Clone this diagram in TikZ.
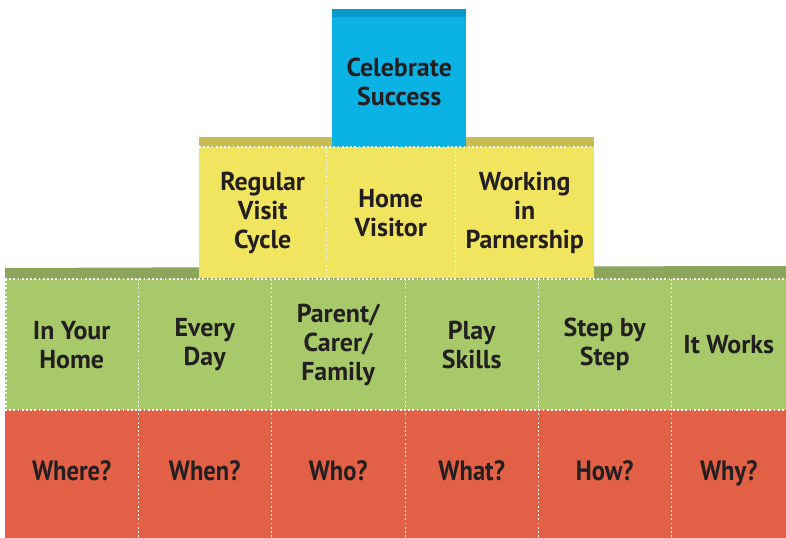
\documentclass[tikz,border=0pt]{standalone}
\usepackage{fontspec}
\setmainfont{PT Sans}
\newfontfamily\condfont[FakeStretch=0.88]{PT Sans}
\definecolor{cblue}{HTML}{0BB2E4}
\definecolor{cbluedk}{HTML}{0A9ACB}
\definecolor{cyel}{HTML}{F1E45E}
\definecolor{cyeldk}{HTML}{C9BC52}
\definecolor{cgrn}{HTML}{A7C96A}
\definecolor{cgrndk}{HTML}{8BA65B}
\definecolor{cred}{HTML}{E26045}
\definecolor{ctxt}{HTML}{231F20}
\tikzset{
  face/.style={draw=none, inner sep=0pt, align=center, anchor=north west,
    font=\fontsize{26}{29}\selectfont\bfseries, text=ctxt},
  redface/.style={face, fill=cred, font=\condfont\fontsize{28}{29}\selectfont\bfseries},
  dotline/.style={draw=white, line width=1.8bp, line cap=butt, dash pattern=on 1.8bp off 2.4bp}
}
\begin{document}
\begin{tikzpicture}[x=1bp,y=-1bp]
\useasboundingbox (0,0) rectangle (786,538);
% back strips
\fill[cgrndk] (5,268) -- (300,267) -- (786,266) -- (786,279) -- (5,279) -- cycle;
\fill[cyeldk] (199,137) rectangle (594,147);
% yellow faces
\node[face, fill=cyel, minimum width=127bp, minimum height=131bp] (rv) at (199,147) {Regular\\Visit\\Cycle};
\node[face, fill=cyel, minimum width=129bp, minimum height=131bp] (hv) at (326,147) {Home\\Visitor};
\node[face, fill=cyel, minimum width=139bp, minimum height=131bp] (wp) at (455,147) {Working\\in\\Parnership};
% blue
\fill[cbluedk] (332,9) rectangle (466,17);
\node[face, fill=cblue, minimum width=134bp, minimum height=130bp] (cs) at (332,17) {Celebrate\\Success};
% green faces
\node[face, fill=cgrn, minimum width=133bp, minimum height=131bp] (g1) at (5,279) {In Your\\Home};
\node[face, fill=cgrn, minimum width=133bp, minimum height=131bp] (g2) at (138,279) {Every\\Day};
\node[face, fill=cgrn, minimum width=134bp, minimum height=131bp] (g3) at (271,279) {Parent/\\Carer/\\Family};
\node[face, fill=cgrn, minimum width=133bp, minimum height=131bp] (g4) at (405,279) {Play\\Skills};
\node[face, fill=cgrn, minimum width=133bp, minimum height=131bp] (g5) at (538,279) {Step by\\Step};
\node[face, fill=cgrn, minimum width=115bp, minimum height=131bp] (g6) at (671,279) {It Works};
% red faces
\node[redface, minimum width=133bp, minimum height=128bp, text depth=8bp] (r1) at (5,410) {Where?};
\node[redface, minimum width=133bp, minimum height=128bp, text depth=8bp] (r2) at (138,410) {When?};
\node[redface, minimum width=134bp, minimum height=128bp, text depth=8bp] (r3) at (271,410) {Who?};
\node[redface, minimum width=133bp, minimum height=128bp, text depth=8bp] (r4) at (405,410) {What?};
\node[redface, minimum width=133bp, minimum height=128bp, text depth=8bp] (r5) at (538,410) {How?};
\node[redface, minimum width=115bp, minimum height=128bp, text depth=8bp] (r6) at (671,410) {Why?};
% dotted separators
\draw[dotline] (rv.north west) -- (wp.north east);
\draw[dotline] (rv.north east) -- (rv.south east);
\draw[dotline] (hv.north east) -- (hv.south east);
\draw[dotline] (g1.north west) -- (g6.north east);
\draw[dotline] (r1.north west) -- (r6.north east);
\draw[dotline] ([xshift=1bp]g1.north west) -- ([xshift=1bp]g1.south west);
\draw[dotline] (g1.north east) -- (r1.south east);
\draw[dotline] (g2.north east) -- (r2.south east);
\draw[dotline] (g3.north east) -- (r3.south east);
\draw[dotline] (g4.north east) -- (r4.south east);
\draw[dotline] (g5.north east) -- (r5.south east);
\end{tikzpicture}
\end{document}
